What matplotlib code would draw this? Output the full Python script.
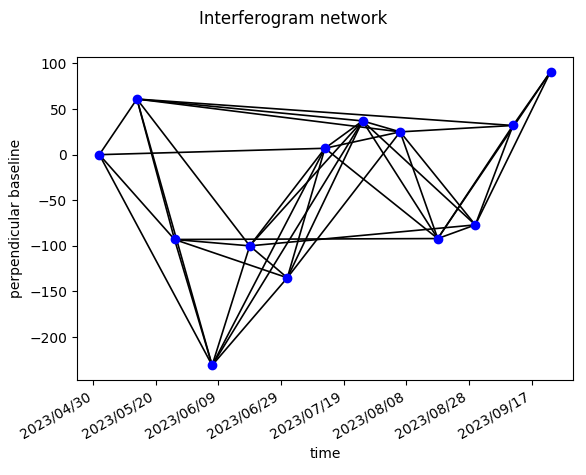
import datetime as dt
import matplotlib
matplotlib.use("Agg")
import matplotlib.pyplot as plt
import matplotlib.dates as mdates

# acquisition dates and perpendicular baselines (m)
dates = ["2023-05-02", "2023-05-14", "2023-05-26", "2023-06-07", "2023-06-19",
         "2023-07-01", "2023-07-13", "2023-07-25", "2023-08-06", "2023-08-18",
         "2023-08-30", "2023-09-11", "2023-09-23"]
bperp = [0, 61, -93, -231, -100, -135, 7, 37, 25, -92, -77, 32, 91]

# interferogram pairs (indices into dates)
pairs = [(0, 1), (0, 2), (0, 3), (0, 6),
         (1, 2), (1, 3), (1, 4), (1, 7), (1, 8), (1, 11),
         (2, 3), (2, 4), (2, 5), (2, 9),
         (3, 4), (3, 5), (3, 6), (3, 7),
         (4, 5), (4, 6), (4, 7), (4, 10),
         (5, 6), (5, 7), (5, 8),
         (6, 7), (6, 8), (6, 9),
         (7, 8), (7, 9), (7, 10),
         (8, 9), (8, 10), (8, 11),
         (9, 10), (9, 11), (9, 12),
         (10, 11), (10, 12),
         (11, 12)]

tick_dates = ["2023-04-30", "2023-05-20", "2023-06-09", "2023-06-29",
              "2023-07-19", "2023-08-08", "2023-08-28", "2023-09-17"]

t = [dt.datetime.strptime(d, "%Y-%m-%d") for d in dates]
ticks = [dt.datetime.strptime(d, "%Y-%m-%d") for d in tick_dates]

fig, ax = plt.subplots(figsize=(5.86, 4.75), dpi=100)
fig.subplots_adjust(left=0.131, right=0.978, top=0.88, bottom=0.194)

for i, j in pairs:
    ax.plot([t[i], t[j]], [bperp[i], bperp[j]], color="black", lw=1.2, zorder=1)
ax.plot(t, bperp, "o", color="blue", ms=6, zorder=2)

ax.set_xticks(ticks)
ax.xaxis.set_major_formatter(mdates.DateFormatter("%Y/%m/%d"))
fig.autofmt_xdate()
ax.set_xlabel("time")
ax.set_ylabel("perpendicular baseline")
fig.suptitle("Interferogram network")

fig.savefig("out.png", dpi=100)
